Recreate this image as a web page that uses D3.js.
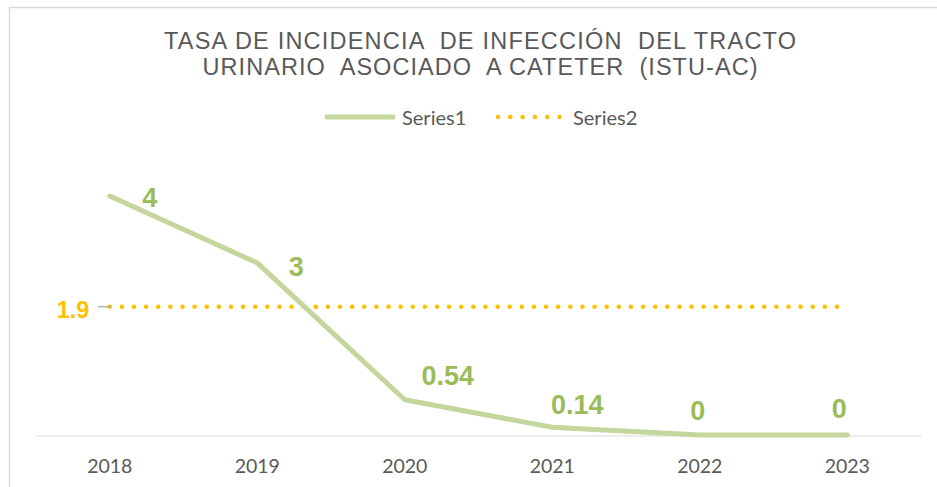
<!DOCTYPE html>
<html><head><meta charset="utf-8">
<script src="https://cdn.jsdelivr.net/npm/d3@7"></script>
<style>body{margin:0;background:#fff}svg{display:block}</style>
</head><body><svg id="c" width="937" height="487"></svg>
<script>
// ---- data ----
const categories = ["2018", "2019", "2020", "2021", "2022", "2023"];
const series1 = [4, 2.88, 0.59, 0.13, 0, 0];
const series1Labels = ["4", "3", "0.54", "0.14", "0", "0"];
const series2 = [1.9, 1.9, 1.9, 1.9, 1.9, 1.9];
const series2Label = "1.9";
const titleLines = ["TASA DE INCIDENCIA  DE INFECCIÓN  DEL TRACTO", "URINARIO  ASOCIADO  A CATETER  (ISTU-AC)"];
const legendNames = ["Series1", "Series2"];

// ---- layout ----
const labelOffsets = [[40, 1], [39, 3], [43, -24], [25, -23], [-2, -25], [-8, -27]];
const green = "#C3D69B", greenLbl = "#9BBB59", yellow = "#FFC000", grey = "#595959";

const svg = d3.select("#c");

// chart border
svg.append("path").attr("d", "M9.5,490V7.5H940").attr("fill", "none")
  .attr("stroke", "#d9d9d9").attr("stroke-width", 1.5);

// title
const tWidths = [632, 555];
titleLines.forEach((t, i) => {
  svg.append("text").attr("x", 480).attr("y", 48.5 + i * 26.5)
    .attr("text-anchor", "middle")
    .attr("font-family", "'Liberation Sans', Arial, sans-serif")
    .attr("font-size", 23.5).attr("fill", grey)
    .style("white-space", "pre")
    .attr("textLength", tWidths[i]).attr("lengthAdjust", "spacing")
    .text(t);
});

// scales
const x = d3.scaleBand().domain(categories).range([36, 921]).padding(0);
const cx = c => x(c) + x.bandwidth() / 2;
const y = d3.scaleLinear().domain([0, 4]).range([435, 196]);
const y2 = d3.scaleLinear().domain([0, 2]).range([435, 300]);

// axis
const ax = svg.append("g").attr("transform", "translate(0,435.5)")
  .call(d3.axisBottom(x).tickSize(0).tickSizeOuter(0));
ax.select(".domain").attr("stroke", "#d9d9d9").attr("stroke-width", 1.2);
ax.selectAll("text").attr("y", 37).attr("dy", 0)
  .attr("font-family", "Lato, 'Open Sans', sans-serif").attr("font-size", 19.5)
  .attr("fill", grey);

// series2 dotted
const line2 = d3.line().x((d, i) => cx(categories[i])).y(d => y2(d));
svg.append("path").datum(series2).attr("d", line2)
  .attr("fill", "none").attr("stroke", yellow).attr("stroke-width", 4.6)
  .attr("stroke-linecap", "round").attr("stroke-dasharray", "0 12.12");

// series1 line
const line1 = d3.line().x((d, i) => cx(categories[i])).y(d => y(d));
svg.append("path").datum(series1).attr("d", line1)
  .attr("fill", "none").attr("stroke", green).attr("stroke-width", 5)
  .attr("stroke-linecap", "round").attr("stroke-linejoin", "round");

// series1 labels
svg.append("g").selectAll("text").data(series1).join("text")
  .attr("x", (d, i) => cx(categories[i]) + labelOffsets[i][0])
  .attr("y", (d, i) => y(d) + labelOffsets[i][1])
  .attr("dy", "0.36em").attr("text-anchor", "middle")
  .attr("font-family", "'Liberation Sans', Arial, sans-serif")
  .attr("font-weight", "bold").attr("font-size", 27).attr("fill", greenLbl)
  .text((d, i) => series1Labels[i]);

// series2 label with leader
const y19 = y2(series2[0]);
svg.append("line").attr("x1", 98).attr("x2", 111).attr("y1", y19).attr("y2", y19)
  .attr("stroke", "#A6A6A6").attr("stroke-width", 1.2);
svg.append("text").attr("x", 73).attr("y", y19 + 3).attr("dy", "0.36em")
  .attr("text-anchor", "middle")
  .attr("font-family", "'Liberation Sans', Arial, sans-serif")
  .attr("font-weight", "bold").attr("font-size", 23.5).attr("fill", yellow)
  .text(series2Label);

// legend
const lg = svg.append("g");
lg.append("line").attr("x1", 327).attr("x2", 393).attr("y1", 117).attr("y2", 117)
  .attr("stroke", green).attr("stroke-width", 5).attr("stroke-linecap", "round");
lg.append("text").attr("x", 402).attr("y", 125).text(legendNames[0]);
lg.append("line").attr("x1", 498).attr("x2", 560).attr("y1", 117).attr("y2", 117)
  .attr("stroke", yellow).attr("stroke-width", 4.6).attr("stroke-linecap", "round")
  .attr("stroke-dasharray", "0 12.3");
lg.append("text").attr("x", 573).attr("y", 125).text(legendNames[1]);
lg.selectAll("text").attr("font-family", "Lato, 'Open Sans', sans-serif")
  .attr("font-size", 20).attr("fill", grey);
</script></body></html>
